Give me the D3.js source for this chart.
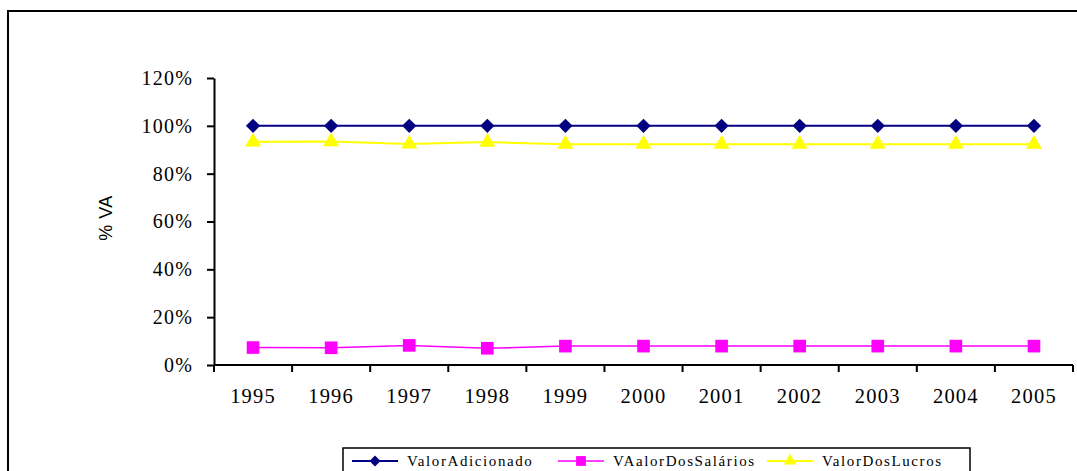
<!DOCTYPE html>
<html>
<head>
<meta charset="utf-8">
<script src="https://cdn.jsdelivr.net/npm/d3@7"></script>
<style>
  body { margin: 0; background: #fff; }
  svg { display: block; }
</style>
</head>
<body>
<div id="container"></div>
<script>
const years = ['1995', '1996', '1997', '1998', '1999', '2000', '2001', '2002', '2003', '2004', '2005'];
const valorAdicionado = [1, 1, 1, 1, 1, 1, 1, 1, 1, 1, 1];
const valorSalarios = [0.073, 0.072, 0.082, 0.070, 0.079, 0.079, 0.079, 0.079, 0.079, 0.079, 0.079];
const valorLucros = [0.933, 0.934, 0.924, 0.932, 0.923, 0.923, 0.923, 0.923, 0.923, 0.923, 0.923];
const yTicks = [0, 0.2, 0.4, 0.6, 0.8, 1.0, 1.2];

const w = 1077;
const h = 471;

const svg = d3.select('#container')
  .append('svg')
    .attr('width', w)
    .attr('height', h);

// outer chart-area frame (runs off the right/bottom edge)
svg.append('rect')
  .attr('x', 8)
  .attr('y', 11)
  .attr('width', 1100)
  .attr('height', 500)
  .style('fill', 'none')
  .style('stroke', '#000')
  .style('stroke-width', 2);

const x = d3.scaleBand()
  .domain(years)
  .range([214, 1073]);

const y = d3.scaleLinear()
  .domain([0, 1.2])
  .range([365, 78]);

const serif = '"Liberation Serif", "Times New Roman", serif';

// y axis
const yAxis = svg.append('g')
  .attr('transform', 'translate(214, 0)')
  .call(d3.axisLeft(y).tickValues(yTicks).tickFormat(d3.format('.0%')).tickSize(7).tickSizeOuter(0).tickPadding(14));
yAxis.select('.domain').style('stroke', '#000').style('stroke-width', 2);
yAxis.selectAll('line').style('stroke', '#000').style('stroke-width', 2);
yAxis.selectAll('text')
  .style('font-family', serif)
  .style('font-size', '20px')
  .style('letter-spacing', '1.2px')
  .style('fill', '#000');

// x axis: ticks sit on the band edges, labels in the middle
const xAxis = svg.append('g')
  .attr('transform', 'translate(0, 365)');
xAxis.append('line')
  .attr('x1', x.range()[0])
  .attr('x2', x.range()[1])
  .style('stroke', '#000')
  .style('stroke-width', 2);
xAxis.selectAll('.tick-edge')
  .data(years.concat(['end']))
  .enter()
  .append('line')
  .attr('class', 'tick-edge')
  .attr('x1', d => d === 'end' ? x.range()[1] : x(d))
  .attr('x2', d => d === 'end' ? x.range()[1] : x(d))
  .attr('y1', 0)
  .attr('y2', 7)
  .style('stroke', '#000')
  .style('stroke-width', 2);
xAxis.selectAll('.tick-label')
  .data(years)
  .enter()
  .append('text')
  .attr('class', 'tick-label')
  .attr('x', d => x(d) + x.bandwidth() / 2)
  .attr('y', 38)
  .attr('text-anchor', 'middle')
  .style('font-family', serif)
  .style('font-size', '20.5px')
  .style('letter-spacing', '1.2px')
  .text(d => d);

// y axis title, slightly clipped like the original
svg.append('clipPath')
  .attr('id', 'ylab-clip')
  .append('rect')
  .attr('x', 80)
  .attr('y', 196)
  .attr('width', 50)
  .attr('height', 60);

svg.append('g')
  .attr('clip-path', 'url(#ylab-clip)')
  .append('text')
  .attr('transform', 'translate(112, 218) rotate(-90)')
  .attr('text-anchor', 'middle')
  .style('font-family', '"Liberation Sans", Arial, sans-serif')
  .style('font-size', '18px')
  .style('letter-spacing', '0.5px')
  .text('% VA');

const cx = (d, i) => x(years[i]) + x.bandwidth() / 2;

const series = [
  { name: 'ValorAdicionado', values: valorAdicionado, color: '#000080', marker: d3.symbolDiamond2, size: 130, width: 2 },
  { name: 'VAalorDosSalários', values: valorSalarios, color: '#ff00ff', marker: d3.symbolSquare, size: 160, width: 1.5 },
  { name: 'ValorDosLucros', values: valorLucros, color: '#ffff00', marker: d3.symbolTriangle, size: 110, width: 2 }
];

const line = d3.line()
  .x(cx)
  .y(d => y(d));

series.forEach(s => {
  svg.append('path')
    .datum(s.values)
    .attr('d', line)
    .style('fill', 'none')
    .style('stroke', s.color)
    .style('stroke-width', s.width);

  svg.selectAll(null)
    .data(s.values)
    .enter()
    .append('path')
    .attr('d', d3.symbol().type(s.marker).size(s.size))
    .attr('transform', (d, i) => 'translate(' + cx(d, i) + ',' + y(d) + ')')
    .style('fill', s.color);
});

// legend
const legend = svg.append('g')
  .attr('id', 'legend');

legend.append('rect')
  .attr('x', 343)
  .attr('y', 448)
  .attr('width', 627)
  .attr('height', 40)
  .style('fill', '#fff')
  .style('stroke', '#000')
  .style('stroke-width', 1.5);

const legendX = [352, 558, 767];

series.forEach((s, i) => {
  const g = legend.append('g')
    .attr('transform', 'translate(' + legendX[i] + ', 461)');
  g.append('line')
    .attr('x1', 0)
    .attr('x2', 46)
    .style('stroke', s.color)
    .style('stroke-width', s.width);
  g.append('path')
    .attr('d', d3.symbol().type(s.marker).size(s.size * 0.6))
    .attr('transform', 'translate(23, 0)')
    .style('fill', s.color);
  g.append('text')
    .attr('x', 55)
    .attr('y', 5)
    .style('font-family', serif)
    .style('font-size', '15px')
    .style('letter-spacing', '1.6px')
    .text(s.name);
});
</script>
</body>
</html>
